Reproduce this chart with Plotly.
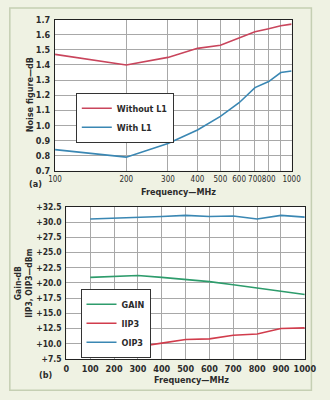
import plotly.graph_objects as go

# ---- data (a) noise figure ----
freq_a = [100, 200, 300, 400, 500, 600, 700, 800, 900, 1000]
nf_without_l1 = [1.47, 1.40, 1.45, 1.51, 1.53, 1.58, 1.62, 1.64, 1.66, 1.67]
nf_with_l1 = [0.84, 0.79, 0.88, 0.97, 1.06, 1.15, 1.25, 1.29, 1.35, 1.36]
xticks_a = [100, 200, 300, 400, 500, 600, 700, 800, 900, 1000]
xticklabels_a = ["100", "200", "300", "400", "500", "600", "700", "800", "", "1000"]
yticks_a = [0.7, 0.8, 0.9, 1.0, 1.1, 1.2, 1.3, 1.4, 1.5, 1.6, 1.7]

# ---- data (b) gain / IP3 ----
freq_b = [100, 200, 300, 400, 500, 600, 700, 800, 900, 1000]
gain = [20.9, 21.0, 21.2, 20.9, 20.6, 20.2, 19.7, 19.2, 18.6, 18.1]
iip3 = [9.5, 9.5, 9.5, 10.1, 10.7, 10.8, 11.4, 11.6, 12.5, 12.6]
oip3 = [30.5, 30.6, 30.7, 30.9, 31.1, 30.9, 31.0, 30.5, 31.1, 30.8]
xticks_b = [0, 100, 200, 300, 400, 500, 600, 700, 800, 900, 1000]
yticks_b = [7.5, 10.0, 12.5, 15.0, 17.5, 20.0, 22.5, 25.0, 27.5, 30.0, 32.5]

W, H = 330, 400
FONT = "DejaVu Sans Condensed"
FS = 9
RED = "#c9455c"
BLUE = "#3a87b3"
GREEN = "#2e9c6c"
IRED = "#d13c4c"
TXT = "#2b2b2b"

def px(x):
    return x / W

def py(y):
    return 1 - y / H

def f(size=FS, weight="bold"):
    return dict(family=FONT, size=size, color=TXT, weight=weight)

fig = go.Figure()
fig.add_trace(go.Scatter(x=freq_a, y=nf_without_l1, mode="lines", name="Without L1",
                         line=dict(color=RED, width=1.6), xaxis="x", yaxis="y", legend="legend"))
fig.add_trace(go.Scatter(x=freq_a, y=nf_with_l1, mode="lines", name="With L1",
                         line=dict(color=BLUE, width=1.6), xaxis="x", yaxis="y", legend="legend"))
fig.add_trace(go.Scatter(x=freq_b, y=gain, mode="lines", name="GAIN",
                         line=dict(color=GREEN, width=1.6), xaxis="x2", yaxis="y2", legend="legend2"))
fig.add_trace(go.Scatter(x=freq_b, y=iip3, mode="lines", name="IIP3",
                         line=dict(color=IRED, width=1.6), xaxis="x2", yaxis="y2", legend="legend2"))
fig.add_trace(go.Scatter(x=freq_b, y=oip3, mode="lines", name="OIP3",
                         line=dict(color=BLUE, width=1.6), xaxis="x2", yaxis="y2", legend="legend2"))

axis_common = dict(showgrid=True, gridcolor="#a8a8a8", gridwidth=1, showline=True,
                   linecolor="#222222", linewidth=1.2, mirror=True, ticks="", zeroline=False,
                   tickangle=0, tickfont=f())

fig.update_layout(
    width=W, height=H, margin=dict(l=0, r=0, t=0, b=0),
    paper_bgcolor="#eff2e3", plot_bgcolor="#ffffff",
    font=f(),
    xaxis=dict(axis_common, type="log", range=[2, 3], domain=[px(51), px(302)],
               tickvals=xticks_a, ticktext=xticklabels_a, anchor="y", ticklabelstandoff=1,
               tickfont=f(8, "normal")),
    yaxis=dict(axis_common, range=[0.7, 1.7], domain=[py(170), py(15)],
               tickvals=yticks_a, tickformat=".1f", anchor="x", ticklabelstandoff=2),
    xaxis2=dict(axis_common, range=[0, 1000], domain=[px(63), px(316)],
                tickvals=xticks_b, anchor="y2", ticklabelstandoff=1),
    yaxis2=dict(axis_common, range=[7.5, 32.5], domain=[py(363), py(207)],
                tickvals=yticks_b, ticktext=["+%.1f" % v for v in yticks_b],
                anchor="x2", ticklabelstandoff=2, tickfont=f(8.5)),
    legend=dict(x=px(73), y=py(90), xanchor="left", yanchor="top",
                bgcolor="#ffffff", bordercolor="#333333", borderwidth=1,
                font=f(), itemwidth=30, tracegroupgap=0),
    legend2=dict(x=px(78), y=py(291), xanchor="left", yanchor="top",
                 bgcolor="#ffffff", bordercolor="#333333", borderwidth=1,
                 font=f(), itemwidth=30, tracegroupgap=0),
    showlegend=True,
)

# outer panel border
fig.add_shape(type="rect", xref="paper", yref="paper", x0=px(3), x1=px(323), y0=py(395), y1=py(3),
              line=dict(color="#c5cfb3", width=1.5), fillcolor="rgba(0,0,0,0)", layer="below")

annots = [
    dict(x=px(182), y=py(192), text="Frequency—MHz"),
    dict(x=px(196), y=py(385), text="Frequency—MHz"),
    dict(x=px(30), y=py(184), text="(a)"),
    dict(x=px(41), y=py(379), text="(b)"),
]
for a in annots:
    fig.add_annotation(xref="paper", yref="paper", showarrow=False, xanchor="center",
                       yanchor="middle", font=f(), **a)

fig.add_annotation(xref="paper", yref="paper", x=px(24), y=py(92), text="Noise figure—dB",
                   textangle=-90, showarrow=False, xanchor="center", yanchor="middle", font=f())
fig.add_annotation(xref="paper", yref="paper", x=px(18), y=py(285), text="Gain-dB<br>IIP3, OIP3—dBm",
                   textangle=-90, showarrow=False, xanchor="center", yanchor="middle", font=f(8.5))

fig.write_html("out.html")
